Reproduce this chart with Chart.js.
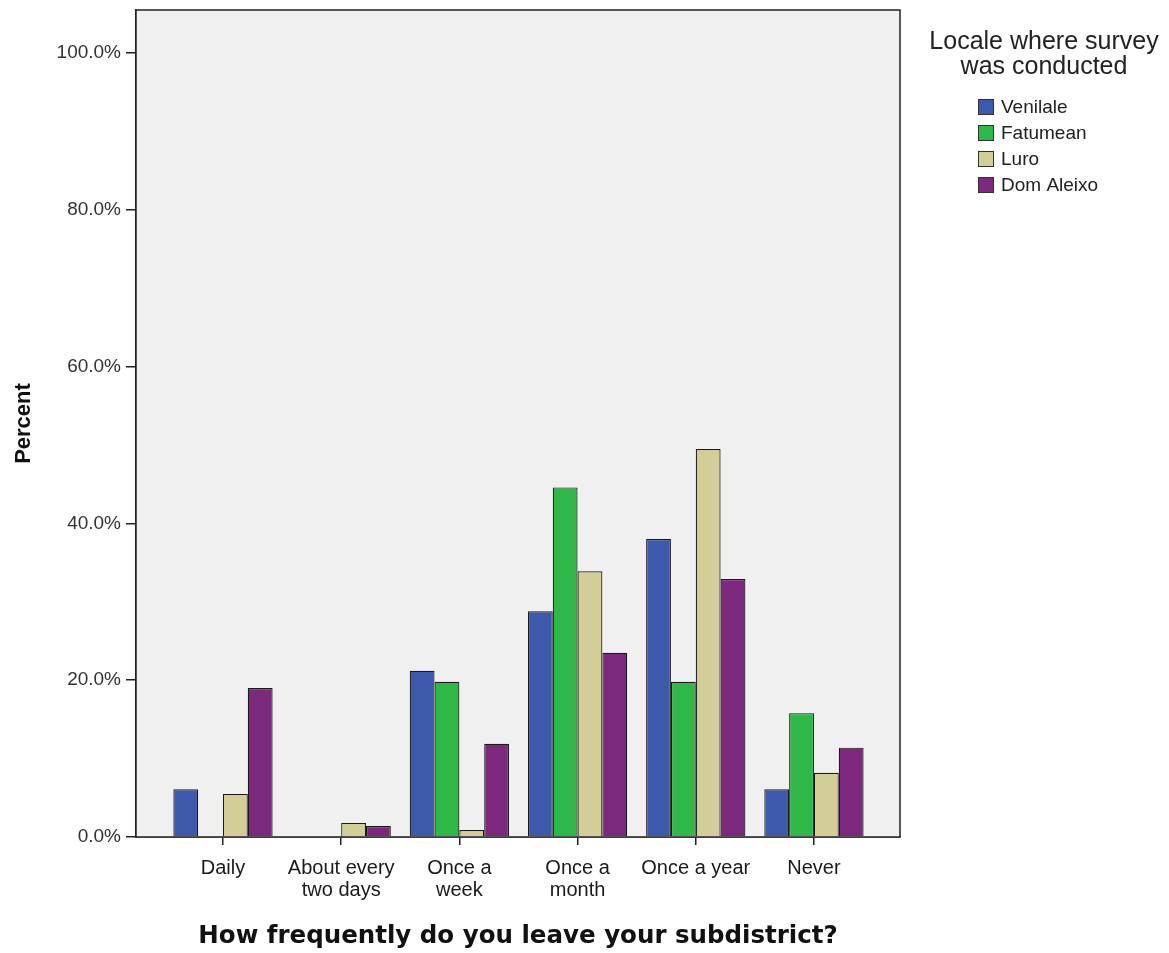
<!DOCTYPE html>
<html>
<head>
<meta charset="utf-8">
<script src="https://cdn.jsdelivr.net/npm/chart.js@4/dist/chart.umd.min.js"></script>
<style>
  html, body { margin: 0; padding: 0; background: #ffffff; }
  #wrap { width: 1169px; height: 953px; }
</style>
</head>
<body>
<div id="wrap"><canvas id="chart" width="1169" height="953"></canvas></div>
<script>
const categories = [
    ['Daily'],
    ['About every', 'two days'],
    ['Once a', 'week'],
    ['Once a', 'month'],
    ['Once a year'],
    ['Never']
];
const locales = ['Venilale', 'Fatumean', 'Luro', 'Dom Aleixo'];
const venilale = [6.1, 0, 21.2, 28.8, 38.0, 6.1];
const fatumean = [0, 0, 19.8, 44.6, 19.8, 15.8];
const luro = [5.5, 1.8, 0.9, 33.9, 49.5, 8.2];
const domAleixo = [19.0, 1.4, 11.9, 23.5, 32.9, 11.4];
const yTicks = [0, 20, 40, 60, 80, 100];

const colors = ['#3e58ac', '#2eb848', '#d3ce97', '#7c287d'];
const series = [venilale, fatumean, luro, domAleixo];

// plot frame + grey background, then the legend on the right
const framePlugin = {
    id: 'frame',
    beforeDatasetsDraw(chart) {
        const { ctx, chartArea: a } = chart;
        ctx.save();
        ctx.fillStyle = '#f0f0f0';
        ctx.fillRect(a.left, a.top, a.right - a.left, a.bottom - a.top);
        ctx.restore();
    },
    afterDraw(chart) {
        const { ctx, chartArea: a } = chart;
        ctx.save();
        ctx.strokeStyle = '#222';
        ctx.lineWidth = 1.5;
        ctx.strokeRect(a.left, a.top, a.right - a.left, a.bottom - a.top);

        // legend
        ctx.fillStyle = '#222';
        ctx.textAlign = 'center';
        ctx.textBaseline = 'middle';
        ctx.font = '25px "Liberation Sans", Arial, sans-serif';
        ctx.fillText('Locale where survey', 1044, 42);
        ctx.fillText('was conducted', 1044, 67);
        ctx.textAlign = 'left';
        ctx.font = '19px "Liberation Sans", Arial, sans-serif';
        chart.data.datasets.forEach((ds, i) => {
            const y = 107 + i * 26;
            ctx.fillStyle = ds.backgroundColor;
            ctx.fillRect(978, y - 8, 16, 16);
            ctx.strokeStyle = '#333';
            ctx.lineWidth = 1;
            ctx.strokeRect(978.5, y - 7.5, 15, 15);
            ctx.fillStyle = '#222';
            ctx.fillText(ds.label, 1001, y + 1);
        });
        ctx.restore();
    }
};

new Chart(document.getElementById('chart'), {
    type: 'bar',
    data: {
        datasets: locales.map((name, i) => ({
            label: name,
            data: series[i].map((v, j) => ({ x: j, y: v })),
            backgroundColor: colors[i],
            borderColor: '#1a1a1a',
            borderWidth: 1.2,
            borderSkipped: 'start',
            categoryPercentage: 0.84,
            barPercentage: 1.0
        }))
    },
    options: {
        responsive: false,
        animation: false,
        layout: { padding: { top: 10, right: 269, left: 0, bottom: 0 } },
        plugins: {
            legend: { display: false },
            tooltip: { enabled: false }
        },
        scales: {
            x: {
                type: 'linear',
                offset: false,
                min: -0.736,
                max: 5.728,
                afterBuildTicks(scale) {
                    scale.ticks = categories.map((c, i) => ({ value: i }));
                },
                afterFit(scale) {
                    scale.height = 116;
                    scale.paddingLeft = 0;
                    scale.paddingRight = 0;
                },
                ticks: {
                    autoSkip: false,
                    maxRotation: 0,
                    padding: 12,
                    color: '#1a1a1a',
                    font: { family: '"Liberation Sans", Arial, sans-serif', size: 20, lineHeight: 1.1 },
                    callback: (v) => categories[v]
                },
                grid: { offset: false, drawOnChartArea: false, tickLength: 8, color: '#222', lineWidth: 1.5 },
                border: { display: true, color: '#222', width: 1.5 },
                title: {
                    display: true,
                    text: 'How frequently do you leave your subdistrict?',
                    color: '#111',
                    font: { family: '"DejaVu Sans", Verdana, sans-serif', size: 24.5, weight: 'bold' },
                    padding: { top: 0, bottom: 2 }
                }
            },
            y: {
                min: 0,
                max: 105.5,
                afterBuildTicks(scale) {
                    scale.ticks = yTicks.map(v => ({ value: v }));
                },
                afterFit(scale) {
                    scale.width = 136;
                    scale.paddingTop = 0;
                    scale.paddingBottom = 0;
                },
                ticks: {
                    padding: 5,
                    color: '#333',
                    font: { family: '"Liberation Sans", Arial, sans-serif', size: 19 },
                    callback: (v) => v.toFixed(1) + '%'
                },
                grid: { drawOnChartArea: false, tickLength: 10, color: '#222', lineWidth: 1.5 },
                border: { display: true, color: '#222', width: 1.5 },
                title: {
                    display: true,
                    text: 'Percent',
                    color: '#111',
                    font: { family: '"Liberation Sans", Arial, sans-serif', size: 22, weight: 'bold' },
                    padding: { top: 11, bottom: 0 }
                }
            }
        }
    },
    plugins: [framePlugin]
});
</script>
</body>
</html>
